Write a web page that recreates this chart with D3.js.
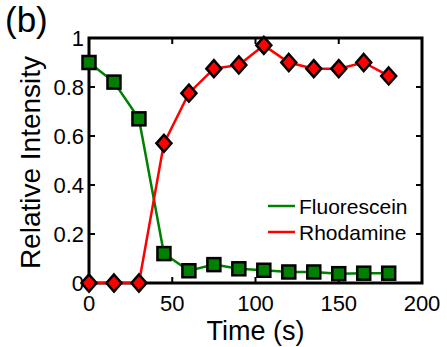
<!DOCTYPE html>
<html><head><meta charset="utf-8">
<script src="https://cdn.jsdelivr.net/npm/d3@7"></script>
<style>body{margin:0;background:#fff;} svg{display:block;} text{font-family:"Liberation Sans",Arial,sans-serif;fill:#000;}</style>
</head><body>
<svg id="c" width="447" height="347"></svg>
<script>
const times = [0,15,30,45,60,75,90,105,120,135,150,165,180];
const fluorescein = [0.90,0.82,0.67,0.12,0.05,0.075,0.058,0.052,0.045,0.045,0.038,0.04,0.04];
const rhodamine = [0,0,0,0.57,0.775,0.875,0.89,0.97,0.90,0.875,0.875,0.90,0.845];
const xTicks = [0,50,100,150,200];
const yTicks = [0,0.2,0.4,0.6,0.8,1];
const yTickLabels = ["0","0.2","0.4","0.6","0.8","1"];
const seriesNames = ["Fluorescein","Rhodamine"];
const colors = ["#008000","#ff0000"];

const svg = d3.select("#c");
const L=89,R=422,T=38,B=283;
const x = d3.scaleLinear().domain([0,200]).range([L,R]);
const y = d3.scaleLinear().domain([0,1]).range([B,T]);

// ticks (inward, all sides)
const tl=6;
const g = svg.append("g").attr("stroke","#000").attr("stroke-width",2);
xTicks.forEach(t=>{
  g.append("line").attr("x1",x(t)).attr("x2",x(t)).attr("y1",B).attr("y2",B-tl);
  g.append("line").attr("x1",x(t)).attr("x2",x(t)).attr("y1",T).attr("y2",T+tl);
});
yTicks.forEach(t=>{
  g.append("line").attr("x1",L).attr("x2",L+tl).attr("y1",y(t)).attr("y2",y(t));
  g.append("line").attr("x1",R).attr("x2",R-tl).attr("y1",y(t)).attr("y2",y(t));
});
svg.append("rect").attr("x",L).attr("y",T).attr("width",R-L).attr("height",B-T)
  .attr("fill","none").attr("stroke","#000").attr("stroke-width",3);

// tick labels
xTicks.forEach(t=>{
  svg.append("text").attr("x",x(t)).attr("y",B+28).attr("text-anchor","middle")
    .attr("font-size",22).text(t);
});
yTicks.forEach((t,i)=>{
  svg.append("text").attr("x",L-5).attr("y",y(t)+8).attr("text-anchor","end")
    .attr("font-size",22).text(yTickLabels[i]);
});

// axis labels
svg.append("text").attr("x",(L+R)/2).attr("y",340).attr("text-anchor","middle")
  .attr("font-size",27).text("Time (s)");
svg.append("text").attr("transform",`translate(40,${(T+B)/2+2}) rotate(-90)`)
  .attr("text-anchor","middle").attr("font-size",28).text("Relative Intensity");
svg.append("text").attr("x",5).attr("y",32).attr("font-size",35).text("(b)");

// lines
const line = d3.line().x(d=>x(d[0])).y(d=>y(d[1]));
const fData = times.map((t,i)=>[t,fluorescein[i]]);
const rData = times.map((t,i)=>[t,rhodamine[i]]);
svg.append("path").attr("d",line(fData)).attr("fill","none").attr("stroke",colors[0]).attr("stroke-width",2.5);
svg.append("path").attr("d",line(rData)).attr("fill","none").attr("stroke",colors[1]).attr("stroke-width",2.5);

// markers
svg.append("g").selectAll("rect").data(fData).join("rect")
  .attr("x",d=>x(d[0])-6.5).attr("y",d=>y(d[1])-6.5).attr("width",13).attr("height",13)
  .attr("fill",colors[0]).attr("stroke","#000").attr("stroke-width",2.5);
svg.append("g").selectAll("path").data(rData).join("path")
  .attr("d",d=>{const cx=x(d[0]),cy=y(d[1]);return `M${cx},${cy-8.5}L${cx+7.5},${cy}L${cx},${cy+8.5}L${cx-7.5},${cy}Z`;})
  .attr("fill",colors[1]).attr("stroke","#000").attr("stroke-width",2.5);

// legend
const legY=[206,232];
seriesNames.forEach((n,i)=>{
  svg.append("line").attr("x1",268).attr("x2",295).attr("y1",legY[i]).attr("y2",legY[i])
    .attr("stroke",colors[i]).attr("stroke-width",2.5);
  svg.append("text").attr("x",299).attr("y",legY[i]+8).attr("font-size",21).text(n);
});
</script>
</body></html>
